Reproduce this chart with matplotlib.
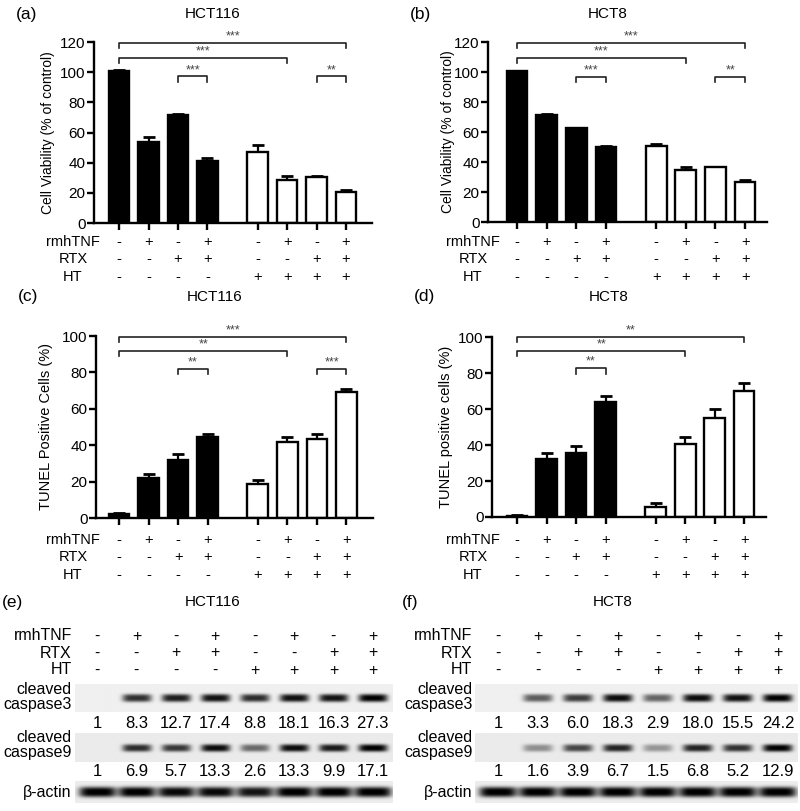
import numpy as np
import matplotlib.pyplot as plt
from matplotlib.transforms import blended_transform_factory

plt.rcParams['font.family'] = ['Liberation Sans', 'DejaVu Sans']

# treatment matrix (same for every panel)
rmhTNF = ['-', '+', '-', '+', '-', '+', '-', '+']
RTX = ['-', '-', '+', '+', '-', '-', '+', '+']
HT = ['-', '-', '-', '-', '+', '+', '+', '+']
row_names = ['rmhTNF', 'RTX', 'HT']

# bar data (mean, upper SD)
via_hct116 = [100.5, 54.0, 71.5, 41.0, 47.0, 28.5, 30.5, 20.5]
via_hct116_err = [1.0, 2.8, 0.8, 2.3, 4.5, 2.5, 0.5, 1.6]
via_hct8 = [100.5, 71.5, 62.5, 50.0, 51.0, 35.0, 36.5, 27.0]
via_hct8_err = [0.3, 0.3, 0.5, 0.5, 1.3, 1.7, 0.5, 1.2]
tun_hct116 = [2.2, 21.8, 32.0, 44.3, 18.8, 41.7, 43.3, 69.5]
tun_hct116_err = [0.3, 2.4, 3.2, 1.6, 2.2, 3.0, 2.9, 1.6]
tun_hct8 = [0.8, 32.4, 35.8, 64.0, 5.8, 40.7, 55.2, 70.0]
tun_hct8_err = [0.2, 3.2, 3.6, 3.3, 2.1, 3.6, 5.0, 4.3]

# significance brackets: (bar i, bar j, line y, drop y, label)
sig_a = [(0, 7, 119.3, 116.0, '***'), (0, 5, 109.6, 106.3, '***'),
         (2, 3, 97.2, 93.5, '***'), (6, 7, 97.2, 93.5, '**')]
sig_b = [(0, 7, 119.3, 116.0, '***'), (0, 5, 109.6, 106.3, '***'),
         (2, 3, 96.7, 93.3, '***'), (6, 7, 96.7, 93.3, '**')]
sig_c = [(0, 7, 99.6, 96.9, '***'), (0, 5, 92.0, 89.0, '**'),
         (2, 3, 82.0, 79.2, '**'), (6, 7, 82.0, 79.2, '***')]
sig_d = [(0, 7, 100.0, 97.2, '**'), (0, 5, 92.2, 89.3, '**'),
         (2, 3, 83.0, 79.6, '**')]

# western blot quantification
c3_hct116 = [1, 8.3, 12.7, 17.4, 8.8, 18.1, 16.3, 27.3]
c9_hct116 = [1, 6.9, 5.7, 13.3, 2.6, 13.3, 9.9, 17.1]
c3_hct8 = [1, 3.3, 6.0, 18.3, 2.9, 18.0, 15.5, 24.2]
c9_hct8 = [1, 1.6, 3.9, 6.7, 1.5, 6.8, 5.2, 12.9]
actin_hct116 = [1.0, 1.0, 0.95, 0.95, 0.9, 1.0, 1.0, 1.0]
actin_hct8 = [1.0, 1.0, 1.0, 1.0, 1.0, 1.0, 1.0, 1.0]

pos = np.array([0, 1, 2, 3, 4.7, 5.7, 6.7, 7.7])
black = [True] * 4 + [False] * 4

W, H = 800, 811
fig = plt.figure(figsize=(8, 8.11), dpi=100)


def box(x0, y0, x1, y1):
    return [x0 / W, 1 - y1 / H, (x1 - x0) / W, (y1 - y0) / H]


def bar_panel(rect, xlim, vals, errs, ymax, ystep, ylabel, lab_size, lab_cx,
              sigs, rows_y, lab_x, tag, title, tag_y):
    ax = fig.add_axes(box(*rect))
    fc = ['black' if b else 'white' for b in black]
    ax.errorbar(pos, vals, yerr=[np.zeros(8), errs], fmt='none', ecolor='black',
                elinewidth=1.6, capsize=4.5, capthick=2.0, zorder=1)
    ax.bar(pos, vals, width=0.7, color=fc, edgecolor='black', linewidth=1.7,
           zorder=2)
    ax.set_xlim(*xlim)
    ax.set_ylim(0, ymax)
    ax.set_yticks(np.arange(0, ymax + 1, ystep))
    ax.set_xticks(pos)
    ax.set_xticklabels([])
    for s in ['top', 'right']:
        ax.spines[s].set_visible(False)
    for s in ['left', 'bottom']:
        ax.spines[s].set_linewidth(1.7)
    ax.tick_params(axis='both', width=1.7, length=5, labelsize=11, pad=1)
    ax.set_ylabel(ylabel, fontsize=lab_size)
    ax.yaxis.set_label_coords((lab_cx - rect[0]) / (rect[2] - rect[0]), 0.5)
    for i, j, y, yd, lab in sigs:
        ax.plot([pos[i], pos[i], pos[j], pos[j]], [yd, y, y, yd],
                color='#222222', lw=1.2, clip_on=False)
        ax.annotate(lab, ((pos[i] + pos[j]) / 2, y), xytext=(0, 0.3),
                    textcoords='offset points', ha='center', va='bottom',
                    fontsize=9, color='#444444')
    tr = blended_transform_factory(ax.transData, fig.transFigure)
    for name, signs, ry in zip(row_names, [rmhTNF, RTX, HT], rows_y):
        fig.text(lab_x / W, 1 - ry / H, name, ha='center', va='center',
                 fontsize=10.5)
        for p, s in zip(pos, signs):
            ax.text(p, 1 - ry / H, s, transform=tr, ha='center', va='center',
                    fontsize=10.5)
    x0 = rect[0] - 80
    fig.text((x0 + 2) / W, 1 - tag_y / H, tag, ha='left', va='center',
             fontsize=12.5)
    fig.text((rect[0] + rect[2]) / 2 / W - 20 / W, 1 - tag_y / H, title,
             ha='center', va='center', fontsize=11)
    return ax


bar_panel((94, 42, 372, 223), (-0.85, 8.58), via_hct116, via_hct116_err, 120, 20,
          'Cell Viability (% of control)', 10, 55, sig_a, (242, 259, 277), 73,
          '(a)', 'HCT116', 14)
bar_panel((488, 42, 767, 222), (-0.98, 8.44), via_hct8, via_hct8_err, 120, 20,
          'Cell Viability (% of control)', 10, 455, sig_b, (242, 259, 277), 473,
          '(b)', 'HCT8', 14)
bar_panel((96, 336, 373, 518), (-0.78, 8.6), tun_hct116, tun_hct116_err, 100, 20,
          'TUNEL Positive Cells (%)', 10.5, 53, sig_c, (540, 557, 575), 73,
          '(c)', 'HCT116', 297)
bar_panel((492, 337, 766, 517), (-0.85, 8.44), tun_hct8, tun_hct8_err, 100, 20,
          'TUNEL positive cells (%)', 10.5, 453, sig_d, (540, 557, 575), 473,
          '(d)', 'HCT8', 297)


def strip(ax, x0, x1, y0, y1, yc, levels, halfw, sig, bg):
    xs = np.linspace(x0, x1, 500)
    ys = np.linspace(y0, y1, 80)
    X, Y = np.meshgrid(xs, ys)
    img = np.full(X.shape, bg)
    for i, lv in enumerate(levels):
        prof = (np.exp(-np.abs((X - i) / halfw) ** 5)
                * np.exp(-np.abs((Y - yc) / sig) ** 3))
        img = img - lv * prof
    img = np.clip(img, 0, 1)
    ax.imshow(img, cmap='gray', vmin=0, vmax=1, extent=(x0, x1, y1, y0),
              aspect='auto', interpolation='bilinear', zorder=1)


def blot_panel(px0, lane0, step, c3, c9, actin, tag, title):
    ax = fig.add_axes(box(px0, 620, px0 + 400, 811))
    ax.set_xlim((px0 - lane0) / step, (px0 + 400 - lane0) / step)
    ax.set_ylim(811, 620)
    ax.axis('off')
    lx = -0.64
    sx0, sx1 = -0.57, 7.5
    for name, signs, ry in zip(row_names, [rmhTNF, RTX, HT], (636, 653, 670)):
        ax.text(lx, ry, name, ha='right', va='center', fontsize=11.5)
        for i, s in enumerate(signs):
            ax.text(i, ry, s, ha='center', va='center', fontsize=11.5)
    d3 = [(np.log(v) / np.log(max(c3))) ** 0.5 for v in c3]
    d9 = [(np.log(v) / np.log(max(c9))) ** 0.55 for v in c9]
    strip(ax, sx0, sx1, 684, 712, 698, [0.94 * d for d in d3], 0.37, 4.0, 0.94)
    strip(ax, sx0, sx1, 733, 762, 748, [0.92 * d for d in d9], 0.37, 3.8, 0.92)
    strip(ax, sx0, sx1, 781, 803, 792, [0.95 * a for a in actin], 0.47, 5.2, 0.93)
    ax.text(lx, 690, 'cleaved', ha='right', va='center', fontsize=11.5)
    ax.text(lx, 705, 'caspase3', ha='right', va='center', fontsize=11.5)
    ax.text(lx, 738, 'cleaved', ha='right', va='center', fontsize=11.5)
    ax.text(lx, 753, 'caspase9', ha='right', va='center', fontsize=11.5)
    ax.text(lx, 792, 'β-actin', ha='right', va='center', fontsize=11.5)
    for i, v in enumerate(c3):
        ax.text(i, 723, f'{v}', ha='center', va='center', fontsize=12)
    for i, v in enumerate(c9):
        ax.text(i, 771, f'{v}', ha='center', va='center', fontsize=12)
    fig.text((px0 + 2) / W, 1 - 602 / H, tag, ha='left', va='center', fontsize=12.5)
    fig.text((px0 + 213) / W, 1 - 602 / H, title, ha='center', va='center',
             fontsize=11)


blot_panel(0, 97, 39.4, c3_hct116, c9_hct116, actin_hct116, '(e)', 'HCT116')
blot_panel(400, 498, 40.0, c3_hct8, c9_hct8, actin_hct8, '(f)', 'HCT8')

fig.savefig('out.png', dpi=100)
